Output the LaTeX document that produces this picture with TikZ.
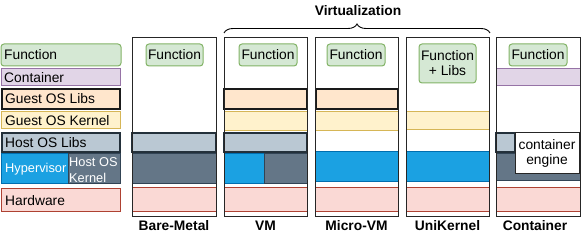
\documentclass[tikz,border=0pt]{standalone}
\usepackage{fontspec}
\setmainfont{Liberation Sans}
\usetikzlibrary{decorations.pathreplacing}
\definecolor{fnF}{HTML}{D5E8D4}\definecolor{fnD}{HTML}{82B366}
\definecolor{ctF}{HTML}{E1D5E7}\definecolor{ctD}{HTML}{9673A6}
\definecolor{glF}{HTML}{FFE6CC}\definecolor{glD}{HTML}{1A1A1A}
\definecolor{gkF}{HTML}{FFF2CC}\definecolor{gkD}{HTML}{D6B656}
\definecolor{hlF}{HTML}{BAC8D3}\definecolor{hlD}{HTML}{23303A}
\definecolor{hvF}{HTML}{1BA1E2}\definecolor{hvD}{HTML}{006EAF}
\definecolor{hkF}{HTML}{647687}\definecolor{hkD}{HTML}{314354}
\definecolor{hwF}{HTML}{FAD9D5}\definecolor{hwD}{HTML}{AE4132}
\tikzset{
  fnbox/.style={fill=fnF,draw=fnD,line width=1pt,rounded corners=3pt},
  ctbox/.style={fill=ctF,draw=ctD,line width=1pt},
  glbox/.style={fill=glF,draw=glD,line width=1.3pt},
  gkbox/.style={fill=gkF,draw=gkD,line width=1pt},
  hlbox/.style={fill=hlF,draw=hlD,line width=1.3pt},
  hvbox/.style={fill=hvF,draw=hvD,line width=1pt},
  hkbox/.style={fill=hkF,draw=hkD,line width=1pt},
  hwbox/.style={fill=hwF,draw=hwD,line width=1pt},
  colbox/.style={draw=black!85,line width=1pt},
  lbl/.style={font=\fontsize{13.8}{15}\selectfont,inner sep=0pt,anchor=west},
  wlbl/.style={font=\fontsize{12.8}{14}\selectfont,inner sep=0pt,anchor=west,text=white},
  clbl/.style={font=\fontsize{13.8}{15}\selectfont,inner sep=0pt,align=center},
  blbl/.style={font=\bfseries\fontsize{13.8}{15}\selectfont,inner sep=0pt},
}
\begin{document}
\begin{tikzpicture}[x=1pt,y=-1pt]
\useasboundingbox (0,0) rectangle (582,248);
% ---------- legend ----------
\path[fnbox] (1,44) rectangle (121,66);
\node[lbl] (lgFn) at (4,55) {Function};
\path[ctbox] (1,69) rectangle (120,86);
\node[lbl] (lgCt) at (4,77.5) {Container};
\path[glbox] (2,89) rectangle (120,109);
\node[lbl] (lgGl) at (5,99) {Guest OS Libs};
\path[gkbox] (1,112) rectangle (120,129);
\node[lbl] (lgGk) at (5,120.5) {Guest OS Kernel};
\path[hlbox] (2,133) rectangle (120,152);
\node[lbl] (lgHl) at (5,142.5) {Host OS Libs};
\path[hvbox] (1,154) rectangle (68,184);
\path[hkbox] (68,154) rectangle (120,184);
\node[wlbl] (lgHv) at (5,169.5) {Hypervisor};
\node[wlbl] (lgHk1) at (69,162) {Host OS};
\node[wlbl] (lgHk2) at (69,177.5) {Kernel};
\path[hwbox] (1,189) rectangle (120,212);
\node[lbl] (lgHw) at (5,200.5) {Hardware};
% ---------- Bare-Metal ----------
\path[hlbox] (132,133) rectangle (216,152);
\path[hkbox] (132,154) rectangle (216,184);
\path[hwbox] (132,188) rectangle (216,212);
\path[fnbox] (146,44) rectangle (203,66);
\node[clbl] (bmFn) at (174.5,55) {Function};
\path[colbox] (132,38) rectangle (216,217);
\node[blbl] (bmL) at (174,226) {Bare-Metal};
% ---------- VM ----------
\path[glbox] (224,89) rectangle (307,109);
\path[gkbox] (224,112) rectangle (307,131);
\path[hlbox] (224,133) rectangle (307,152);
\path[hvbox] (224,154) rectangle (264,184);
\path[hkbox] (264,154) rectangle (307,184);
\path[hwbox] (224,188) rectangle (307,212);
\path[fnbox] (239,44) rectangle (297,66);
\node[clbl] (vmFn) at (268,55) {Function};
\path[colbox] (224,38) rectangle (307,217);
\node[blbl] (vmL) at (265.5,226) {VM};
% ---------- Micro-VM ----------
\path[glbox] (316,89) rectangle (398,109);
\path[gkbox] (315,112) rectangle (398,131);
\path[hvbox] (315,152) rectangle (398,182);
\path[hwbox] (315,188) rectangle (398,212);
\path[fnbox] (327,44) rectangle (385,66);
\node[clbl] (mvFn) at (356,55) {Function};
\path[colbox] (315,38) rectangle (398,217);
\node[blbl] (mvL) at (356.5,226) {Micro-VM};
% ---------- UniKernel ----------
\path[gkbox] (406,112) rectangle (489,130);
\path[hvbox] (406,152) rectangle (489,182);
\path[hwbox] (406,188) rectangle (489,212);
\path[fnbox] (419,44) rectangle (476,83);
\node[clbl] (ukFn) at (447.5,63.5) {Function\\+ Libs};
\path[colbox] (406,38) rectangle (489,217);
\node[blbl] (ukL) at (447.5,226) {UniKernel};
% ---------- Container ----------
\path[ctbox] (496,69) rectangle (580,86);
\path[hlbox] (496,133) rectangle (515,152);
\path[hkbox] (496,154) rectangle (580,181);
\path[fill=white,draw=black!85,line width=1pt] (515,133) rectangle (579,174);
\node[clbl] (ctEng) at (547,153.5) {container\\engine};
\path[hwbox] (496,188) rectangle (580,212);
\path[fnbox] (509,44) rectangle (567,66);
\node[clbl] (ctFn) at (538,55) {Function};
\path[colbox] (496,38) rectangle (580,217);
\node[blbl] (ctL) at (535,226) {Container};
% ---------- brace ----------
\coordinate (brL) at (224,33);
\coordinate (brR) at (490,33);
\draw[line width=0.9pt,decorate,decoration={brace,amplitude=9pt,raise=0pt}] (brL) -- (brR);
\node[blbl] (virt) at (358,11) {Virtualization};
\end{tikzpicture}
\end{document}
